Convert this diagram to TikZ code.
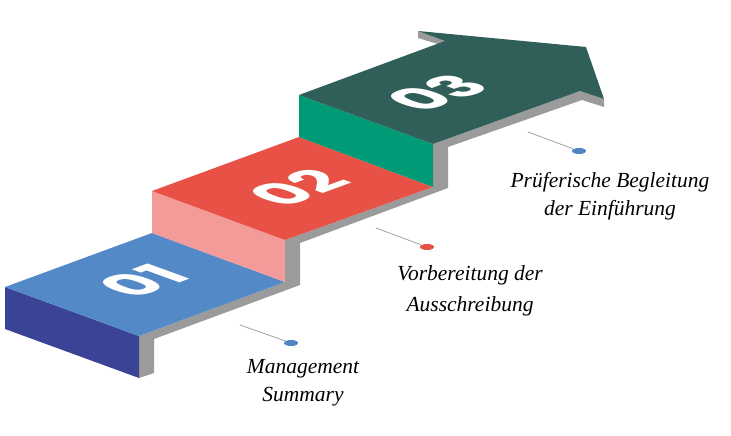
\documentclass[tikz,border=0pt]{standalone}
\usepackage{fontspec}
\usetikzlibrary{shapes.geometric}
\newfontfamily\numfont{Poppins}
\newfontfamily\labelfont{Liberation Serif}
\definecolor{topblue}{RGB}{83,137,199}
\definecolor{sideblue}{RGB}{59,67,150}
\definecolor{topred}{RGB}{232,81,70}
\definecolor{sidered}{RGB}{243,155,152}
\definecolor{topgreen}{RGB}{48,94,88}
\definecolor{sidegreen}{RGB}{0,155,118}
\definecolor{shadow}{RGB}{155,155,155}
\definecolor{leadgray}{RGB}{160,160,160}
\definecolor{dotblue}{RGB}{79,134,198}

\begin{document}
\begin{tikzpicture}[x=1pt,y=-1pt,
    num/.style={text=white,inner sep=0pt,transform shape,
      cm={0.9387,0.3448,-0.940,0.341,(0,0)},
      font=\numfont\bfseries\fontsize{61}{61}\selectfont},
    lbl/.style={anchor=north,inner sep=0pt,align=center,
      font=\labelfont\itshape\fontsize{21.5}{28}\selectfont},
    pin/.style={ellipse,minimum width=14pt,minimum height=6pt,inner sep=0pt},
    lead/.style={draw=leadgray,line width=0.8pt}]
    \useasboundingbox (0,0) rectangle (731,436);
    \fill[shadow] (139,378) -- (154,373) -- (154,339) -- (300,285) -- (300,243)
        -- (448,188) -- (448,147) -- (582,100) -- (604,107) -- (604,99)
        -- (580,91) -- (433,144) -- (433,187) -- (285,240) -- (285,282)
        -- (139,336) -- cycle;
    \fill[shadow] (418,31) -- (445,41) -- (441,45) -- (418,38) -- cycle;
    \fill[sideblue] (5,287) -- (139,336) -- (139,378) -- (5,329) -- cycle;
    \fill[topblue] (5,287) -- (152,233) -- (285,282) -- (139,336) -- cycle;
    \fill[sidered] (152,191) -- (285,240) -- (285,282) -- (152,233) -- cycle;
    \fill[topred] (152,191) -- (299,137) -- (433,187) -- (285,240) -- cycle;
    \fill[sidegreen] (299,95) -- (433,144) -- (433,187) -- (299,137) -- cycle;
    \fill[topgreen] (299,95) -- (445,41) -- (418,31) -- (586,47) -- (604,99)
        -- (580,91) -- (433,144) -- cycle;
    \node[num] (n1) at (143,281) {01};
    \node[num] (n2) at (298,188) {02};
    \node[num] (n3) at (437,93) {03};
    \coordinate (s1) at (240,325);
    \coordinate (s2) at (376,228);
    \coordinate (s3) at (528,132);
    \node[pin,fill=dotblue] (d1) at (291,343) {};
    \node[pin,fill=topred] (d2) at (427,247) {};
    \node[pin,fill=dotblue] (d3) at (579,151) {};
    \draw[lead] (s1) -- (d1);
    \draw[lead] (s2) -- (d2);
    \draw[lead] (s3) -- (d3);
    \node[lbl] (l1) at (303,359) {Management\\Summary};
    \node[lbl,font=\labelfont\itshape\fontsize{21.5}{31}\selectfont] (l2) at (470,265) {Vorbereitung der\\Ausschreibung};
    \node[lbl] (l3) at (610,172) {Prüferische Begleitung\\der Einführung};
\end{tikzpicture}
\end{document}
